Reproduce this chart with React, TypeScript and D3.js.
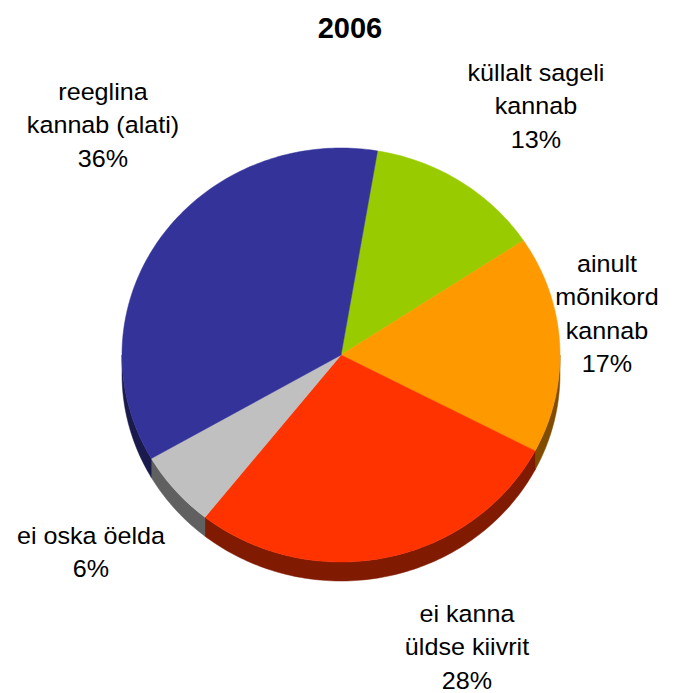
import React from "react";
import * as d3 from "d3";

const title = "2006";
const categories = [
  "küllalt sageli kannab",
  "ainult mõnikord kannab",
  "ei kanna üldse kiivrit",
  "ei oska öelda",
  "reeglina kannab (alati)",
];
const values = [13, 17, 28, 6, 36];
const percentLabels = ["13%", "17%", "28%", "6%", "36%"];
const labelLines = [
  ["küllalt sageli", "kannab"],
  ["ainult", "mõnikord", "kannab"],
  ["ei kanna", "üldse kiivrit"],
  ["ei oska öelda"],
  ["reeglina", "kannab (alati)"],
];
const colors = ["#99CC00", "#FF9900", "#FF3300", "#C0C0C0", "#333399"];

const W = 677;
const H = 693;
const cx = 341;
const cy = 355;
const rx = 219;
const ry = 207;
const depth = 19;
const startDeg = 9.6;

// label anchor positions (center x, first baseline y)
const labelPos: [number, number][] = [
  [536, 81],
  [607, 272],
  [467, 622],
  [91, 544],
  [103, 100],
];
const lineH = 33.5;
const stretch = 1.07;

function pt(theta: number, dy = 0): [number, number] {
  return [cx + rx * Math.sin(theta), cy - ry * Math.cos(theta) + dy];
}

function half(c: string) {
  const r = d3.rgb(c);
  return d3.rgb(r.r * 0.5, r.g * 0.5, r.b * 0.5).formatHex();
}

export default function App() {
  const pie = d3
    .pie<number>()
    .sort(null)
    .startAngle((startDeg * Math.PI) / 180)
    .endAngle((startDeg * Math.PI) / 180 + 2 * Math.PI);
  const arcs = pie(values);
  const line = d3.line();

  const sector = (a0: number, a1: number) => {
    const n = Math.max(2, Math.ceil(((a1 - a0) * 180) / Math.PI));
    const pts: [number, number][] = [[cx, cy]];
    for (let i = 0; i <= n; i++) pts.push(pt(a0 + ((a1 - a0) * i) / n));
    return line(pts) + "Z";
  };

  const wall = (a0: number, a1: number) => {
    const segs: string[] = [];
    for (const off of [0, 2 * Math.PI]) {
      const lo = Math.max(a0, Math.PI / 2 + off);
      const hi = Math.min(a1, (3 * Math.PI) / 2 + off);
      if (hi > lo) {
        const n = Math.max(2, Math.ceil(((hi - lo) * 180) / Math.PI));
        const top: [number, number][] = [];
        const bot: [number, number][] = [];
        for (let i = 0; i <= n; i++) {
          const t = lo + ((hi - lo) * i) / n;
          top.push(pt(t));
          bot.push(pt(t, depth));
        }
        segs.push(line([...top, ...bot.reverse()]) + "Z");
      }
    }
    return segs.join(" ");
  };

  return (
    <svg width={W} height={H} style={{ display: "block", position: "absolute", left: 0, top: 0 }}>
      <rect width={W} height={H} fill="#fff" />
      <text
        x={350}
        y={38}
        textAnchor="middle"
        fontFamily="Liberation Sans, Arial, sans-serif"
        fontWeight="bold"
        fontSize={29}
      >
        {title}
      </text>
      <g>
        {arcs.map((a, i) => (
          <path
            key={"w" + i}
            d={wall(a.startAngle, a.endAngle)}
            fill={half(colors[i])}
            stroke={half(colors[i])}
            strokeWidth={0.5}
          />
        ))}
        {arcs.map((a, i) => (
          <path
            key={"s" + i}
            d={sector(a.startAngle, a.endAngle)}
            fill={colors[i]}
            stroke={colors[i]}
            strokeWidth={0.5}
          />
        ))}
      </g>
      <g fontFamily="Liberation Sans, Arial, sans-serif" fontSize={23.5} fill="#000">
        {labelLines.map((lines, i) => (
          <g
            key={"l" + i}
            transform={`translate(${labelPos[i][0]},${labelPos[i][1]}) scale(${stretch},1)`}
          >
            <text textAnchor="middle" aria-label={categories[i]}>
              {[...lines, percentLabels[i]].map((s, j) => (
                <tspan key={j} x={0} y={j * lineH}>
                  {s}
                </tspan>
              ))}
            </text>
          </g>
        ))}
      </g>
    </svg>
  );
}
